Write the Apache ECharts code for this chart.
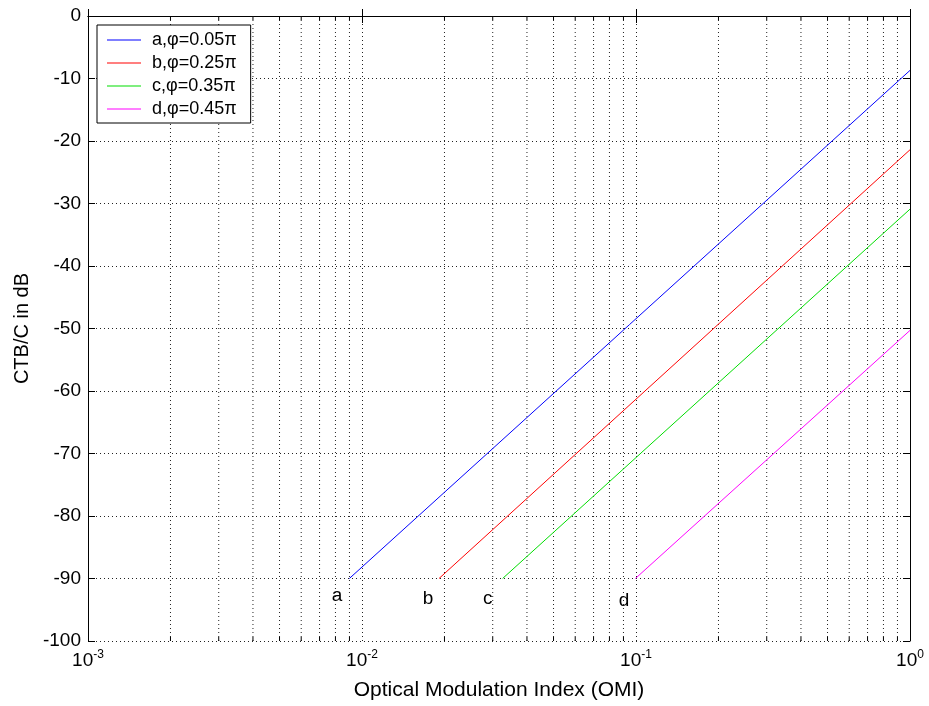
<!DOCTYPE html>
<html>
<head>
<meta charset="utf-8">
<script src="https://cdn.jsdelivr.net/npm/echarts@6/dist/echarts.min.js"></script>
<style>
  html, body { margin: 0; padding: 0; background: #fff; }
  #chart { width: 929px; height: 706px; }
</style>
</head>
<body>
<div id="chart"></div>
<script>
// start / end points of each straight line
var seriesNames = ['a,φ=0.05π', 'b,φ=0.25π', 'c,φ=0.35π', 'd,φ=0.45π'];
var lineA = [[0.00899, -90], [1, -8.7]];
var lineB = [[0.0191, -90], [1, -21.4]];
var lineC = [[0.0326, -90], [1, -30.9]];
var lineD = [[0.0995, -90], [1, -50.3]];
var lineColors = ['#0000ff', '#ff0000', '#00dd00', '#ff00ff'];

// text labels under the lines
var labelText = ['a', 'b', 'c', 'd'];
var labelX = [0.0081, 0.0174, 0.0288, 0.0904];
var labelY = [-92.8, -93.3, -93.3, -93.5];

// minor decade ticks for the log axis
var minorX = [];
[0.001, 0.01, 0.1].forEach(function (d) {
    for (var k = 2; k <= 9; k++) minorX.push(+(d * k).toPrecision(3));
});
var decadeExp = { '0.001': '-3', '0.01': '-2', '0.1': '-1', '1': '0' };

var chart = echarts.init(document.getElementById('chart'));
var font = 'Liberation Sans, Arial, sans-serif';
var gridStyle = { show: true, lineStyle: { color: '#222', type: [1, 3], width: 1 } };

var xAxisBase = {
    type: 'log', logBase: 10, min: 0.001, max: 1,
    axisLine: { show: true, lineStyle: { color: '#000', width: 1 } },
    axisTick: { show: true, inside: true, length: 7, lineStyle: { color: '#000' } },
    splitLine: { show: false }
};

var lines = [lineA, lineB, lineC, lineD].map(function (pts, i) {
    return {
        name: seriesNames[i], type: 'line', data: pts, symbol: 'none',
        lineStyle: { color: lineColors[i], width: 1 }, itemStyle: { color: lineColors[i] },
        silent: true
    };
});

var option = {
    animation: false,
    grid: { left: 88, right: 19, top: 16, bottom: 61 },
    legend: {
        orient: 'vertical', left: 97, top: 25,
        data: seriesNames, icon: 'rect',
        backgroundColor: '#fff', borderColor: '#000', borderWidth: 1,
        padding: [6, 14, 5, 10], itemGap: 5, itemWidth: 34, itemHeight: 1,
        textStyle: { fontFamily: font, fontSize: 18, color: '#000', padding: [0, 0, 0, 6] }
    },
    xAxis: [
        Object.assign({}, xAxisBase, {
            position: 'bottom',
            name: 'Optical Modulation Index (OMI)', nameLocation: 'middle', nameGap: 39,
            nameTextStyle: { fontFamily: font, fontSize: 21, color: '#000' },
            splitLine: gridStyle,
            axisLabel: {
                margin: 8, color: '#000',
                formatter: function (v) {
                    var e = decadeExp[String(+v.toPrecision(3))];
                    return '{b|10}{s|' + e + '}';
                },
                rich: {
                    b: { fontFamily: font, fontSize: 19, color: '#000' },
                    s: { fontFamily: font, fontSize: 12, color: '#000', padding: [0, 0, 12, 0] }
                }
            }
        }),
        Object.assign({}, xAxisBase, { position: 'top', axisLabel: { show: false } })
    ],
    yAxis: [
        {
            type: 'value', min: -100, max: 0, interval: 10, position: 'left',
            name: 'CTB/C in dB', nameLocation: 'middle', nameGap: 54,
            nameTextStyle: { fontFamily: font, fontSize: 20, color: '#000' },
            axisLine: { show: true, lineStyle: { color: '#000' } },
            axisTick: { show: true, inside: true, length: 7, lineStyle: { color: '#000' } },
            axisLabel: { fontFamily: font, fontSize: 19, color: '#000', margin: 7 },
            splitLine: gridStyle
        },
        {
            type: 'value', min: -100, max: 0, interval: 10, position: 'right',
            axisLine: { show: true, lineStyle: { color: '#000' } },
            axisTick: { show: true, inside: true, length: 7, lineStyle: { color: '#000' } },
            axisLabel: { show: false },
            splitLine: { show: false }
        }
    ],
    series: lines.concat([
        {
            type: 'custom', silent: true, z: 1,
            data: minorX.map(function (v) { return [v]; }),
            encode: { x: 0 },
            renderItem: function (params, api) {
                var v = api.value(0);
                var p0 = api.coord([v, -100]);
                var p1 = api.coord([v, 0]);
                return {
                    type: 'group',
                    children: [
                        { type: 'line', shape: { x1: p0[0], y1: p0[1], x2: p1[0], y2: p1[1] },
                          style: { stroke: '#222', lineWidth: 1, lineDash: [1, 3] } },
                        { type: 'line', shape: { x1: p0[0], y1: p0[1], x2: p0[0], y2: p0[1] - 4 },
                          style: { stroke: '#000', lineWidth: 1 } },
                        { type: 'line', shape: { x1: p1[0], y1: p1[1], x2: p1[0], y2: p1[1] + 4 },
                          style: { stroke: '#000', lineWidth: 1 } }
                    ]
                };
            }
        },
        {
            type: 'scatter', symbol: 'circle', symbolSize: 1, silent: true, z: 5,
            itemStyle: { color: 'rgba(0,0,0,0)', opacity: 1 },
            data: labelText.map(function (t, i) { return { name: t, value: [labelX[i], labelY[i]] }; }),
            label: {
                show: true, position: 'inside', formatter: '{b}', opacity: 1,
                fontFamily: font, fontSize: 19, color: '#000'
            }
        }
    ])
};
chart.setOption(option);
</script>
</body>
</html>
